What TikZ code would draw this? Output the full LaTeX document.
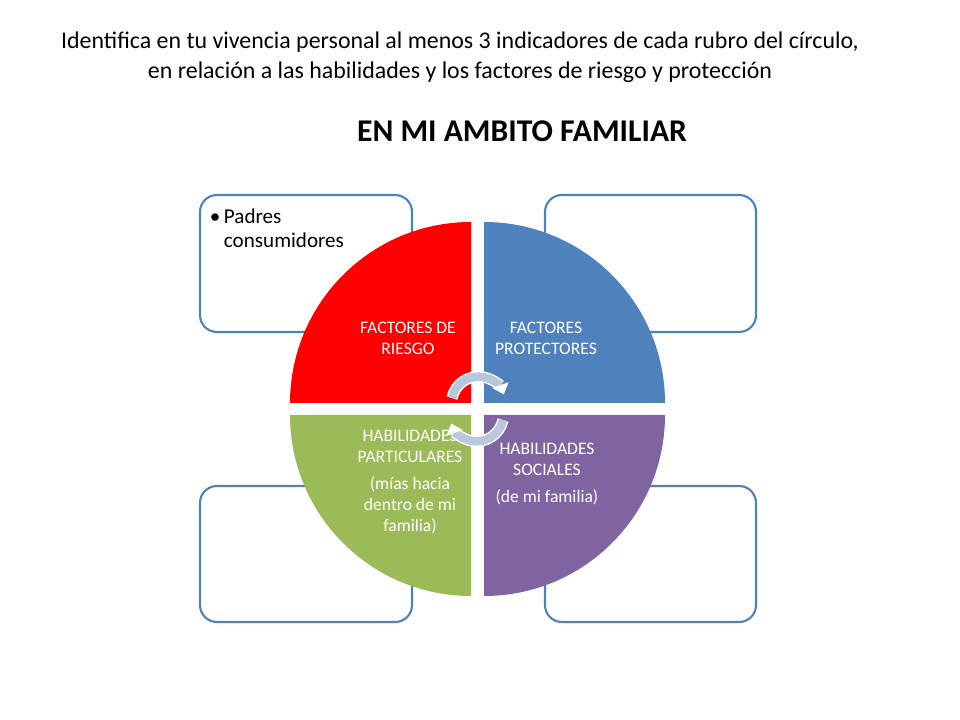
\documentclass[tikz,border=0pt]{standalone}
\usepackage{fontspec}
\setmainfont{Carlito}
\usetikzlibrary{arrows.meta}
\definecolor{riesgo}{HTML}{FF0000}
\definecolor{protec}{HTML}{4F81BD}
\definecolor{partic}{HTML}{9BBB59}
\definecolor{social}{HTML}{8064A2}
\definecolor{boxline}{HTML}{4F81BD}
\definecolor{cycle}{HTML}{B9C7DC}
\begin{document}
\begin{tikzpicture}[x=0.025cm,y=-0.025cm,
  rubro/.style={
    rounded corners=12,
    draw=boxline,
    line width=1.5pt,
    fill=white},
  quad/.style={
    text=white,
    font=\fontsize{12.5}{15}\selectfont,
    align=center},
  cyc/.style={
    double=cycle,
    draw=white,
    double distance=6pt,
    line width=1pt,
    -{Triangle[length=7pt,width=12pt]}},
]
  \useasboundingbox (0,0) rectangle (960,720);

  % titles
  \node[font=\fontsize{17}{21.5}\selectfont,align=center] (title) at (460,57)
    {Identifica en tu vivencia personal al menos 3 indicadores de cada rubro del círculo,\\
     en relación a las habilidades y los factores de riesgo y protección};
  \node[font=\bfseries\fontsize{22.5}{26}\selectfont] (ambito) at (522,131)
    {EN MI AMBITO FAMILIAR};

  % boxes behind the circle
  \draw[rubro] (200,195) rectangle (412,332);
  \draw[rubro] (545,195) rectangle (756,332);
  \draw[rubro] (200,486) rectangle (412,622);
  \draw[rubro] (545,486) rectangle (756,622);
  \node[anchor=north west,align=left,font=\fontsize{15}{17}\selectfont] (padres)
    at (205,204) {\textbullet\,Padres\\\phantom{\textbullet\,}consumidores};

  % quadrants
  \def\rad{181}%
  \fill[riesgo] (471,403) -- ++(-\rad,0) arc[start angle=180,end angle=270,radius=\rad] -- cycle;
  \fill[protec] (484,403) -- ++(0,-\rad) arc[start angle=270,end angle=360,radius=\rad] -- cycle;
  \fill[partic] (471,415) -- ++(0,\rad) arc[start angle=90,end angle=180,radius=\rad] -- cycle;
  \fill[social] (484,415) -- ++(\rad,0) arc[start angle=0,end angle=90,radius=\rad] -- cycle;

  \node[quad] (fr) at (408,338) {FACTORES DE\\RIESGO};
  \node[quad] (fp) at (546,338) {FACTORES\\PROTECTORES};
  \node[quad] (hp) at (410,482) {HABILIDADES\\PARTICULARES\\[4pt](mías hacia\\dentro de mi\\familia)};
  \node[quad] (hs) at (547,474) {HABILIDADES\\SOCIALES\\[4pt](de mi familia)};

  % cycle arrows
  \draw[cyc] (452,398) arc[start angle=192,end angle=340,radius=27];
  \draw[cyc] (503,420) arc[start angle=12,end angle=160,radius=27];
\end{tikzpicture}
\end{document}
